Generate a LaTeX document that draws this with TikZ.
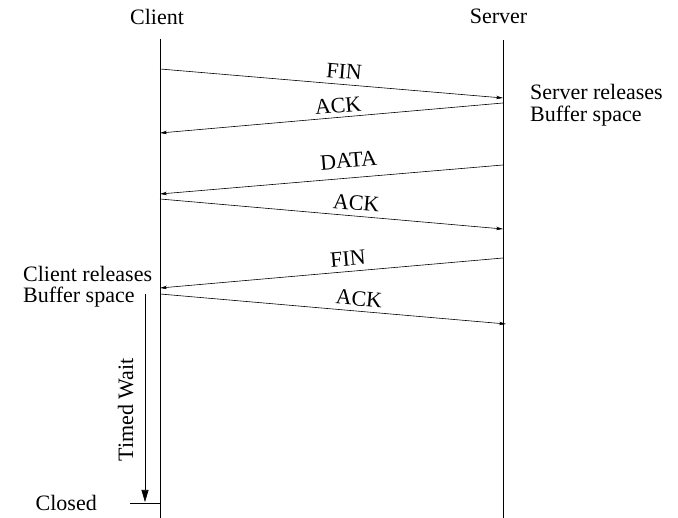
\documentclass[tikz,border=0pt]{standalone}
\usepackage{fontspec}
\setmainfont{Liberation Serif}
\usetikzlibrary{arrows.meta}
\begin{document}
\begin{tikzpicture}[x=1pt,y=-1pt,
  every node/.style={font=\fontsize{22}{23}\selectfont, inner sep=0pt},
  life/.style={line width=0.8pt},
  msg/.style={line width=0.6pt, -{Stealth[length=7pt,width=3.5pt]}},
  lbl/.style={sloped, above=#1},
  lbl/.default=5.5pt,
  waitarrow/.style={line width=0.6pt, -{Triangle[length=12pt,width=7pt]}}]
\useasboundingbox (0,0) rectangle (678,518);
% titles
\node[anchor=base] (client) at (157,25) {Client};
\node[anchor=base] (server) at (498.5,24) {Server};
% lifelines
\coordinate (ctop) at (160,39);
\coordinate (cbot) at (160,518);
\coordinate (stop) at (503,40);
\coordinate (sbot) at (503,518);
\draw[life] (ctop) -- (cbot);
\draw[life] (stop) -- (sbot);
% message end points
\coordinate (c1) at (160,69);  \coordinate (s1) at (503,98);
\coordinate (s2) at (503,103); \coordinate (c2) at (160,133);
\coordinate (s3) at (503,165); \coordinate (c3) at (160,194);
\coordinate (c4) at (160,199); \coordinate (s4) at (503,229);
\coordinate (s5) at (503,258); \coordinate (c5) at (160,288);
\coordinate (c6) at (160,294); \coordinate (s6) at (506,324);
% messages
\draw[msg] (c1) -- node[lbl, pos=0.534] (l1) {FIN} (s1);
\draw[msg] (s2) -- node[lbl=4pt, pos=0.478] (l2) {ACK} (c2);
\draw[msg] (s3) -- node[lbl=10pt, pos=0.446] (l3) {DATA} (c3);
\draw[msg] (c4) -- node[lbl, pos=0.569] (l4) {ACK} (s4);
\draw[msg] (s5) -- node[lbl, pos=0.449] (l5) {FIN} (c5);
\draw[msg] (c6) -- node[lbl=5pt, pos=0.572] (l6) {ACK} (s6);
% notes
\node[anchor=base west] (srel1) at (530,100) {Server releases};
\node[anchor=base west] (srel2) at (530,122) {Buffer space};
\node[anchor=base west] (crel1) at (23,282) {Client releases};
\node[anchor=base west] (crel2) at (23,303) {Buffer space};
% timed wait
\coordinate (wtop) at (145,294);
\coordinate (wbot) at (145,502);
\coordinate (tickl) at (130,503);
\coordinate (tickr) at (160,503);
\draw[waitarrow] (wtop) -- (wbot);
\draw[life] (tickl) -- (tickr);
\node[rotate=90, anchor=base] (tw) at (133,410) {Timed Wait};
\node[anchor=base east] (closed) at (97,511) {Closed};
\end{tikzpicture}
\end{document}
